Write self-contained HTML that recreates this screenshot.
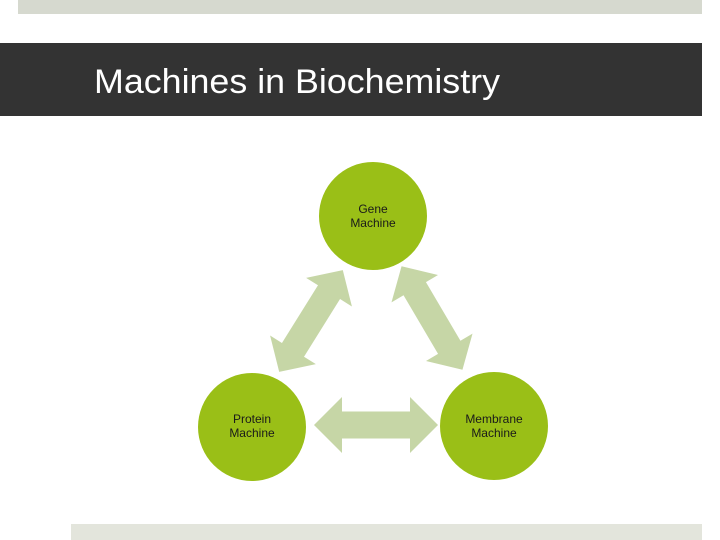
<!DOCTYPE html>
<html><head><meta charset="utf-8"><style>
html,body{margin:0;padding:0;background:#fff;}
body{width:720px;height:540px;position:relative;overflow:hidden;font-family:"Liberation Sans",sans-serif;}
</style></head><body>
<svg width="720" height="540" viewBox="0 0 720 540" style="position:absolute;left:0;top:0">
<rect x="18" y="0" width="684" height="14" fill="#d6d9cf"/>
<rect x="0" y="43" width="702" height="73" fill="#333333"/>
<text x="94" y="93" font-family="Liberation Sans, sans-serif" font-size="34" fill="#ffffff" textLength="406" lengthAdjust="spacingAndGlyphs">Machines in Biochemistry</text>
<rect x="71" y="524" width="631" height="16" fill="#e3e5dc"/>
<g fill="#c6d6a6">
<polygon transform="translate(376,425)" points="-62,0 -34,-28 -34,-13.5 34,-13.5 34,-28 62,0 34,28 34,13.5 -34,13.5 -34,28"/>
<polygon transform="translate(311,321) rotate(-58)" points="-60,0 -34,-27 -34,-13 34,-13 34,-27 60,0 34,27 34,13 -34,13 -34,27"/>
<polygon transform="translate(432,318) rotate(59.5)" points="-60,0 -34,-27 -34,-13 34,-13 34,-27 60,0 34,27 34,13 -34,13 -34,27"/>
</g>
<g fill="#9abf17">
<circle cx="373" cy="216" r="54"/>
<circle cx="252" cy="427" r="54"/>
<circle cx="494" cy="426" r="54"/>
</g>
<g font-family="Liberation Sans, sans-serif" font-size="12" fill="#1a1a1a" text-anchor="middle">
<text x="373" y="213">Gene</text><text x="373" y="227">Machine</text>
<text x="252" y="423">Protein</text><text x="252" y="437">Machine</text>
<text x="494" y="423">Membrane</text><text x="494" y="437">Machine</text>
</g>
</svg>
</body></html>
